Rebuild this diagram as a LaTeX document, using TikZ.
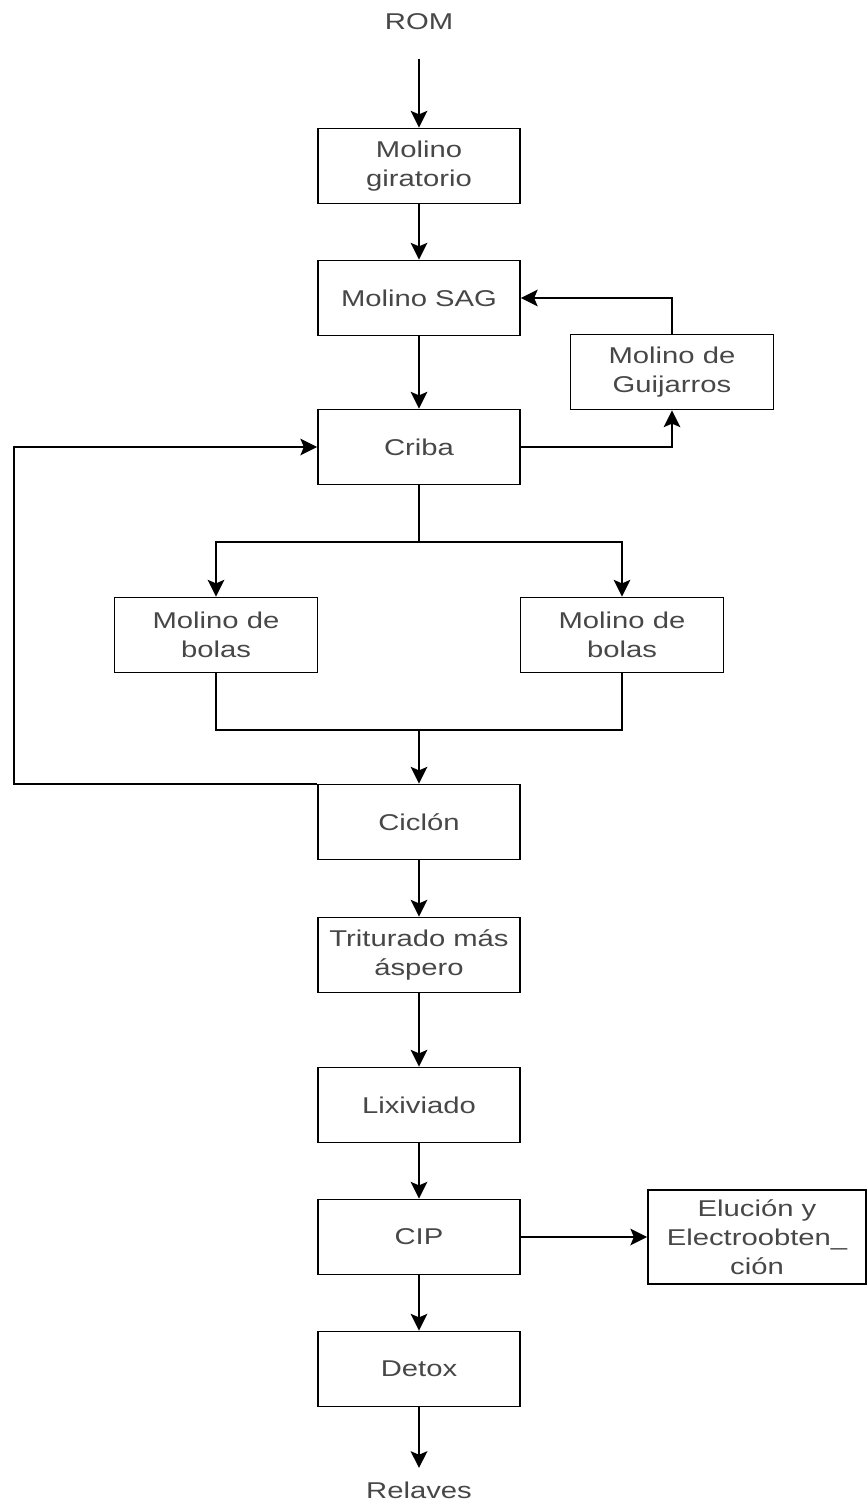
\documentclass[tikz,border=0pt]{standalone}
\usepackage{fontspec}
\setmainfont[FakeStretch=1.28]{Liberation Sans}
\usepackage{tikz}
\usetikzlibrary{shapes.geometric, arrows.meta}
\tikzstyle{arrow} = [line width=1.1pt,-{Stealth[length=9.5pt,width=9.5pt,inset=2pt]}]
\tikzstyle{line} = [line width=1.1pt]
\tikzstyle{proc} = [draw, line width=1.1pt, minimum width=4.04cm, minimum height=1.5cm, align=center, font=\fontsize{13}{16.5}\selectfont, text=black!72]
\tikzstyle{label} = [align=center, font=\fontsize{13}{16.5}\selectfont, text=black!72]

\begin{document}
\begin{tikzpicture}[x=0.02cm, y=-0.02cm]
	\useasboundingbox (0,0) rectangle (868,1504);
	% main line
	\node[label] (rom) at (419,22) {ROM};
	\node[proc] (gir) at (419,166) {Molino\\giratorio};
	\node[proc] (sag) at (419,298) {Molino SAG};
	\node[proc, minimum width=4.06cm] (guij) at (672,372) {Molino de\\Guijarros};
	\node[proc] (criba) at (419,447) {Criba};
	\node[proc, minimum width=4.06cm] (bolasA) at (216,635) {Molino de\\bolas};
	\node[proc, minimum width=4.06cm] (bolasB) at (622,635) {Molino de\\bolas};
	\node[proc] (ciclon) at (419,822) {Ciclón};
	\node[proc] (trit) at (419,955) {Triturado más\\áspero};
	\node[proc] (lix) at (419,1105) {Lixiviado};
	\node[proc] (cip) at (419,1237) {CIP};
	\node[proc, minimum width=4.36cm, minimum height=1.88cm] (eluc) at (757,1237) {Elución y\\Electroobten\_\\ción};
	\node[proc] (detox) at (419,1369) {Detox};
	\node[label] (relaves) at (419,1490) {Relaves};
	% junctions
	\coordinate (split) at (419,542);
	\coordinate (merge) at (419,730);
	\coordinate (back) at (14,785);
	% connectors
	\draw[arrow] ([yshift=-0.45cm]rom.south) -- (gir.north);
	\draw[arrow] (gir) -- (sag);
	\draw[arrow] (sag) -- (criba);
	\draw[arrow] (criba.east) -| (guij.south);
	\draw[arrow] (guij.north) |- (sag.east);
	\draw[line] (criba.south) -- (split);
	\draw[arrow] (split) -| (bolasA.north);
	\draw[arrow] (split) -| (bolasB.north);
	\draw[line] (bolasA.south) |- (merge);
	\draw[line] (bolasB.south) |- (merge);
	\draw[arrow] (merge) -- (ciclon.north);
	\draw[arrow] (ciclon.north west) -- (back |- ciclon.north west) |- (criba.west);
	\draw[arrow] (ciclon) -- (trit);
	\draw[arrow] (trit) -- (lix);
	\draw[arrow] (lix) -- (cip);
	\draw[arrow] (cip) -- (eluc);
	\draw[arrow] (cip) -- (detox);
	\draw[arrow] (detox.south) -- ([yshift=0.15cm]relaves.north);
\end{tikzpicture}
\end{document}
